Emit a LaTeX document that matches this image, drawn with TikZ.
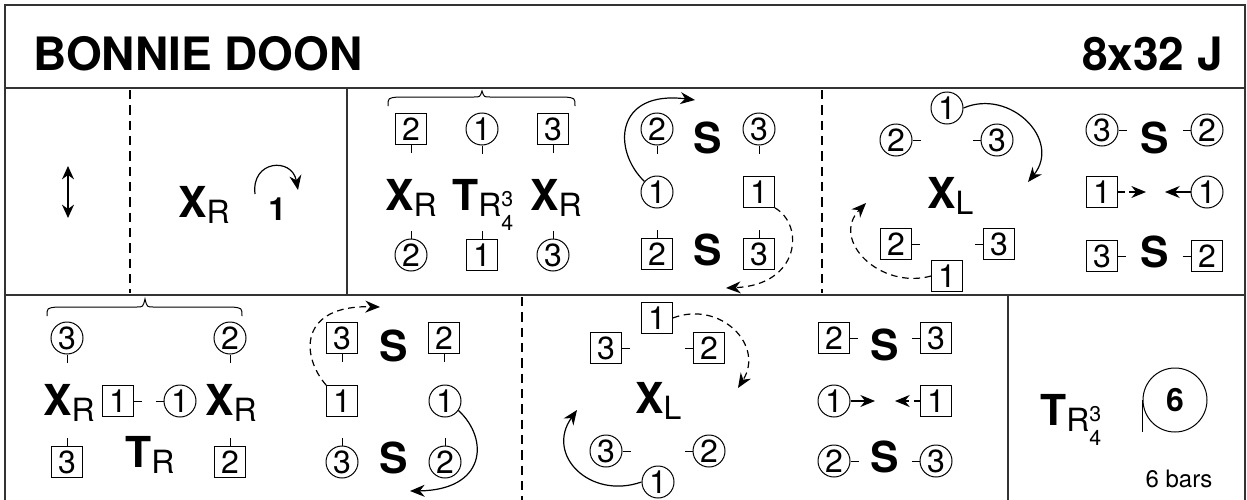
\documentclass[tikz,border=0pt]{standalone}
\usepackage{fontspec}
\setmainfont{TeX Gyre Heros}
\usetikzlibrary{arrows.meta}

\newcommand\sub[1]{\raisebox{-5pt}{\fontsize{24}{24}\selectfont\mdseries #1}}
\newcommand\tq{{\fontsize{16}{16}\selectfont\mdseries\rlap{\raisebox{3pt}{3}}\raisebox{-15pt}{4}}}

\begin{document}
\begin{tikzpicture}[x=0.75pt,y=0.75pt,yscale=-1,xscale=1,
  man/.style={draw, rectangle, minimum width=23pt, minimum height=23pt, inner sep=0pt, line width=0.75pt, font=\fontsize{24}{24}\selectfont},
  lady/.style={draw, circle, minimum size=24pt, inner sep=0pt, line width=0.75pt, font=\fontsize{24}{24}\selectfont},
  fig/.style={inner sep=0pt, font=\fontsize{32}{32}\selectfont\bfseries},
  title/.style={inner sep=0pt, font=\fontsize{34.5}{34.5}\selectfont\bfseries},
  hold/.style={line width=0.75pt},
  frame/.style={line width=1.2pt, draw=black!80},
  barline/.style={line width=0.9pt, dash pattern=on 7pt off 4.5pt},
  move/.style={line width=0.9pt, -{Stealth[length=11pt,width=9pt]}},
  mandash/.style={dash pattern=on 5pt off 3.5pt}]
\useasboundingbox (0,0) rectangle (1247,500);

% frame and bars
\draw[frame] (5,500) -- (5,5) -- (1245,5) -- (1245,500);
\draw[frame] (5,88) -- (1245,88);
\draw[frame] (5,295) -- (1245,295);
\draw[frame] (347,88) -- (347,295);
\draw[frame] (1008,295) -- (1008,500);
\draw[barline] (130,90) -- (130,293);
\draw[barline] (822,90) -- (822,293);
\draw[barline] (522,297) -- (522,500);

% title
\node[title, anchor=base west] (name) at (33,70) {BONNIE DOON};
\node[title, anchor=base east] (form) at (1223,70) {8x32 J};

% bars 1-2
\coordinate (upA) at (68,166);
\coordinate (dnA) at (68,218);
\draw[line width=0.9pt, {Stealth[length=10pt,width=9pt]}-{Stealth[length=10pt,width=9pt]}] (upA) -- (dnA);
\node[fig, anchor=base west] (xr1) at (178,217) {X\sub{R}};
\node[inner sep=0pt, font=\fontsize{24}{24}\selectfont\bfseries, anchor=base west] (one) at (268,220) {1};
\coordinate (turnA) at (255,194);
\coordinate (turnB) at (298,190);
\draw[move] (turnA) .. controls (251,160) and (292,157) .. (turnB);

% bars 3-4
\draw[hold] (388,106) .. controls (388,98) .. (398,97) -- (474,97) .. controls (480,97) .. (482,91) .. controls (484,97) .. (490,97) -- (565,97) .. controls (575,98) .. (575,106);
\node[man] (c1m2) at (411,129) {2};
\node[lady] (c1l1) at (482,129) {1};
\node[man] (c1m3) at (553,129) {3};
\node[fig, anchor=base west] (c1x1) at (385,210) {X\sub{R}};
\node[fig, anchor=base west] (c1t) at (452,210) {T\sub{R}\tq};
\node[fig, anchor=base west] (c1x2) at (530,210) {X\sub{R}};
\node[lady] (c1l2) at (411,255) {2};
\node[man] (c1m1) at (482,255) {1};
\node[lady] (c1l3) at (553,255) {3};
\foreach \n in {c1m2,c1l1,c1m3} \draw[hold] (\n.south) -- ++(0,8);
\foreach \n in {c1l2,c1m1,c1l3} \draw[hold] (\n.north) -- ++(0,-8);

% bars 5-6
\node[lady] (c2l2) at (657,129) {2};
\node[fig] (c2s1) at (708,138) {S};
\node[lady] (c2l3) at (759,129) {3};
\node[lady] (c2l1) at (657,192) {1};
\node[man] (c2m1) at (759,192) {1};
\node[man] (c2m2) at (657,254) {2};
\node[fig] (c2s2) at (708,250) {S};
\node[man] (c2m3) at (759,254) {3};
\foreach \n in {c2l2,c2l3} \draw[hold] (\n.south) -- ++(0,8);
\foreach \n in {c2m2,c2m3} \draw[hold] (\n.north) -- ++(0,-8);
\coordinate (c2ta) at (695,100);
\coordinate (c2tb) at (726,288);
\draw[move] (c2l1.140) .. controls (612,150) and (615,90) .. (c2ta);
\draw[move, mandash] (c2m1.south east) .. controls (805,225) and (800,285) .. (c2tb);

% bars 7-8
\node[lady] (d1l1) at (947,108) {1};
\node[lady] (d1l2) at (896,140) {2};
\node[lady] (d1l3) at (997,140) {3};
\node[fig, anchor=base west] (d1x) at (927,208) {X\sub{L}};
\node[man] (d1m2) at (896,244) {2};
\node[man] (d1m3) at (999,244) {3};
\node[man] (d1m1) at (947,276) {1};
\foreach \n in {d1l2,d1m2} \draw[hold] (\n.east) -- ++(8,0);
\foreach \n in {d1l3,d1m3} \draw[hold] (\n.west) -- ++(-8,0);
\coordinate (d1ta) at (1028,182);
\coordinate (d1tb) at (866,203);
\draw[move] (d1l1.east) .. controls (1010,88) and (1062,140) .. (d1ta);
\draw[move, mandash] (d1m1.west) .. controls (880,290) and (830,240) .. (d1tb);

\node[lady] (d2l3) at (1102,130) {3};
\node[fig] (d2s1) at (1155,138) {S};
\node[lady] (d2l2) at (1207,130) {2};
\node[man] (d2m1) at (1102,192) {1};
\node[lady] (d2l1) at (1207,192) {1};
\node[man] (d2m3) at (1102,256) {3};
\node[fig] (d2s2) at (1155,252) {S};
\node[man] (d2m2) at (1207,256) {2};
\foreach \n in {d2l3,d2m3} \draw[hold] (\n.east) -- ++(8,0);
\foreach \n in {d2l2,d2m2} \draw[hold] (\n.west) -- ++(-8,0);
\coordinate (d2ma) at (1146,192);
\coordinate (d2la) at (1165,192);
\draw[move, mandash] (d2m1) -- (d2ma);
\draw[move] (d2l1) -- (d2la);

% bars 9-10
\draw[hold] (47,316) .. controls (47,308) .. (57,307) -- (137,307) .. controls (143,307) .. (145,299) .. controls (147,307) .. (153,307) -- (232,307) .. controls (242,308) .. (242,316);
\node[lady] (e1l3) at (67,338) {3};
\node[lady] (e1l2) at (230,338) {2};
\node[fig, anchor=base west] (e1x1) at (43,415) {X\sub{R}};
\node[man] (e1m1) at (118,401) {1};
\node[lady] (e1l1) at (180,401) {1};
\node[fig, anchor=base west] (e1x2) at (205,415) {X\sub{R}};
\node[man] (e1m3) at (67,462) {3};
\node[fig, anchor=base west] (e1t) at (125,467) {T\sub{R}};
\node[man] (e1m2) at (230,462) {2};
\foreach \n in {e1l3,e1l2} \draw[hold] (\n.south) -- ++(0,8);
\foreach \n in {e1m3,e1m2} \draw[hold] (\n.north) -- ++(0,-8);
\draw[hold] (e1m1.east) -- ++(8,0);
\draw[hold] (e1l1.west) -- ++(-8,0);

% bars 11-12
\node[man] (e2m3) at (342,338) {3};
\node[fig] (e2s1) at (394,346) {S};
\node[man] (e2m2) at (444,338) {2};
\node[man] (e2m1) at (342,401) {1};
\node[lady] (e2l1) at (445,401) {1};
\node[lady] (e2l3) at (342,462) {3};
\node[fig] (e2s2) at (394,458) {S};
\node[lady] (e2l2) at (445,462) {2};
\foreach \n in {e2m3,e2m2} \draw[hold] (\n.south) -- ++(0,8);
\foreach \n in {e2l3,e2l2} \draw[hold] (\n.north) -- ++(0,-8);
\coordinate (e2ta) at (380,307);
\coordinate (e2tb) at (410,491);
\draw[move, mandash] (e2m1.north west) .. controls (300,355) and (300,305) .. (e2ta);
\draw[move] (e2l1.-35) .. controls (490,440) and (485,490) .. (e2tb);

% bars 13-14
\node[man] (f1m1) at (657,318) {1};
\node[man] (f1m3) at (606,348) {3};
\node[man] (f1m2) at (709,348) {2};
\node[fig, anchor=base west] (f1x) at (635,413) {X\sub{L}};
\node[lady] (f1l3) at (606,451) {3};
\node[lady] (f1l2) at (709,451) {2};
\node[lady] (f1l1) at (658,482) {1};
\foreach \n in {f1m3,f1l3} \draw[hold] (\n.east) -- ++(8,0);
\foreach \n in {f1m2,f1l2} \draw[hold] (\n.west) -- ++(-8,0);
\coordinate (f1ta) at (738,388);
\coordinate (f1tb) at (577,410);
\draw[move, mandash] (f1m1.east) .. controls (720,300) and (765,345) .. (f1ta);
\draw[move] (f1l1.west) .. controls (590,500) and (545,455) .. (f1tb);

\node[man] (f2m2) at (834,338) {2};
\node[fig] (f2s1) at (885,345) {S};
\node[man] (f2m3) at (936,338) {3};
\node[lady] (f2l1) at (834,401) {1};
\node[man] (f2m1) at (936,401) {1};
\node[lady] (f2l2) at (834,461) {2};
\node[fig] (f2s2) at (885,457) {S};
\node[lady] (f2l3) at (936,461) {3};
\foreach \n in {f2m2,f2l2} \draw[hold] (\n.east) -- ++(8,0);
\foreach \n in {f2m3,f2l3} \draw[hold] (\n.west) -- ++(-8,0);
\coordinate (f2la) at (875,401);
\coordinate (f2ma) at (895,401);
\draw[move] (f2l1) -- (f2la);
\draw[move, mandash] (f2m1) -- (f2ma);

% bars 15-16
\node[fig, anchor=base west] (gt) at (1040,425) {T\sub{R}\tq};
\node[draw, circle, minimum size=48pt, inner sep=0pt, line width=0.75pt, font=\fontsize{24}{24}\selectfont\bfseries] (six) at (1175,400) {6};
\draw[hold] (six.west) -- ++(0,32);
\node[inner sep=0pt, font=\fontsize{18}{18}\selectfont] (bars) at (1179,479) {6 bars};
\end{tikzpicture}
\end{document}
